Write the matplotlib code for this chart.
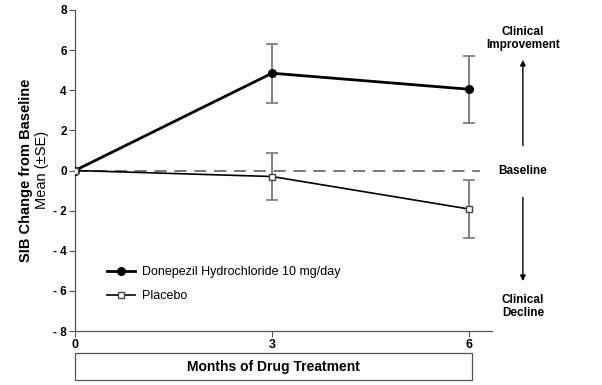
import matplotlib.pyplot as plt
from matplotlib.patches import Rectangle

plt.rcParams['font.family'] = ['Liberation Sans', 'DejaVu Sans']

months = [0, 3, 6]
donepezil = [0.0, 4.85, 4.05]
donepezil_se = [0.0, 1.48, 1.68]
placebo = [0.0, -0.3, -1.92]
placebo_se = [0.0, 1.18, 1.43]
yticks = [-8, -6, -4, -2, 0, 2, 4, 6, 8]
ytick_labels = ['- 8', '- 6', '- 4', '- 2', '0', '2', '4', '6', '8']

fig = plt.figure(figsize=(6.02, 3.85), dpi=100)
ax = fig.add_axes([75 / 602, 54 / 385, 417 / 602, 321 / 385])

# dashed baseline stops a little past the last visit
ax.hlines(0, 0, 6.17, color='#555555', lw=1.1, ls=(0, (8, 5)), zorder=1)

ax.errorbar(months[1:], donepezil[1:], yerr=donepezil_se[1:], fmt='none',
            ecolor='#777777', elinewidth=1.3, capsize=4, capthick=1.2, zorder=2)
ax.errorbar(months[1:], placebo[1:], yerr=placebo_se[1:], fmt='none',
            ecolor='#777777', elinewidth=1.3, capsize=4, capthick=1.2, zorder=2)

ax.plot(months, donepezil, color='black', lw=2, marker='o', ms=5.5,
        label='Donepezil Hydrochloride 10 mg/day', zorder=3)
ax.plot(months, placebo, color='black', lw=1.2, marker='s', ms=5,
        mfc='white', mec='#444444', label='Placebo', zorder=3)

ax.set_xlim(0, 6.35)
ax.set_ylim(-8, 8)
ax.set_xticks(months)
ax.set_xticklabels([str(m) for m in months], fontweight='bold', fontsize=9)
ax.set_yticks(yticks)
ax.set_yticklabels(ytick_labels, fontweight='bold', fontsize=8.5)
ax.tick_params(direction='out', length=4, width=0.8, color='#555555', pad=2)
for s in ['top', 'right']:
    ax.spines[s].set_visible(False)
for s in ['left', 'bottom']:
    ax.spines[s].set_color('#555555')
    ax.spines[s].set_linewidth(0.9)

leg = ax.legend(loc='lower left', bbox_to_anchor=(0.05, 0.055), frameon=False,
                fontsize=9, handlelength=2.2, handletextpad=0.6,
                labelspacing=0.95)

fig.text(26 / 602, 215 / 385, 'SIB Change from Baseline', rotation=90,
         ha='center', va='center', fontsize=10.5, fontweight='bold')
fig.text(42 / 602, 215 / 385, 'Mean (\u00b1SE)', rotation=90,
         ha='center', va='center', fontsize=10.5)

# boxed x label
fig.patches.append(Rectangle((75 / 602, 5 / 385), 397 / 602, 27 / 385,
                             transform=fig.transFigure, fill=False,
                             edgecolor='#555555', lw=0.9))
fig.text(273 / 602, 18 / 385, 'Months of Drug Treatment', ha='center',
         va='center', fontsize=10, fontweight='bold')

xr = 6.82
ax.text(xr, 6.6, 'Clinical\nImprovement', ha='center', va='center',
        fontsize=8.5, fontweight='bold', linespacing=1.1, clip_on=False)
ax.text(xr, 0, 'Baseline', ha='center', va='center', fontsize=8.5,
        fontweight='bold', clip_on=False)
ax.text(xr, -6.8, 'Clinical\nDecline', ha='center', va='center',
        fontsize=8.5, fontweight='bold', linespacing=1.1, clip_on=False)
ax.annotate('', xy=(xr, 5.65), xytext=(xr, 1.1), annotation_clip=False,
            arrowprops=dict(arrowstyle='-|>', color='black', lw=1,
                            mutation_scale=8))
ax.annotate('', xy=(xr, -5.65), xytext=(xr, -1.2), annotation_clip=False,
            arrowprops=dict(arrowstyle='-|>', color='black', lw=1,
                            mutation_scale=8))

fig.savefig('out.png', dpi=100)
